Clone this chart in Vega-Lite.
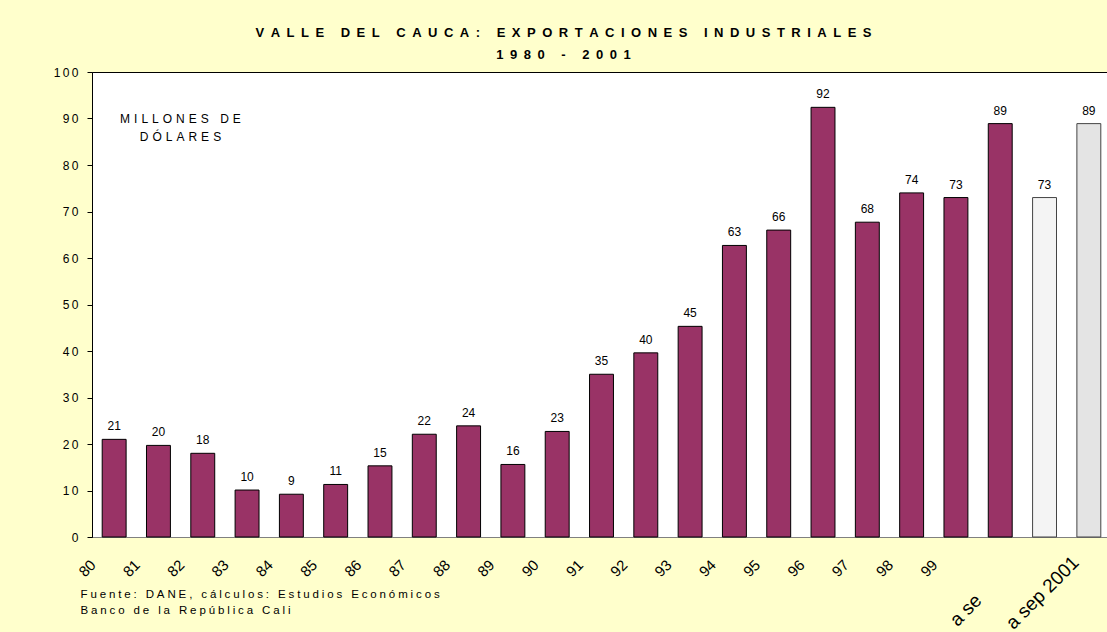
{
  "$schema": "https://vega.github.io/schema/vega-lite/v6.json",
  "autosize": {"type": "none"},
  "width": 1015,
  "height": 465,
  "padding": {"left": 92, "top": 72, "right": 0, "bottom": 95},
  "background": "#FFFFCC",
  "config": {
    "font": "Liberation Sans",
    "view": {"fill": "white", "stroke": "black", "strokeWidth": 1}
  },
  "title": {
    "text": "V\u2002A\u2002L\u2002L\u2002E\u2002 \u2002D\u2002E\u2002L\u2002 \u2002C\u2002A\u2002U\u2002C\u2002A\u2002:\u2002 \u2002E\u2002X\u2002P\u2002O\u2002R\u2002T\u2002A\u2002C\u2002I\u2002O\u2002N\u2002E\u2002S\u2002 \u2002I\u2002N\u2002D\u2002U\u2002S\u2002T\u2002R\u2002I\u2002A\u2002L\u2002E\u2002S",
    "subtitle": "1\u20029\u20028\u20020\u2002 \u2002-\u2002 \u20022\u20020\u20020\u20021",
    "fontSize": 13,
    "fontWeight": "bold",
    "subtitleFontSize": 13,
    "subtitleFontWeight": "bold",
    "subtitlePadding": 9,
    "color": "black",
    "subtitleColor": "black",
    "anchor": "middle",
    "frame": "group",
    "dx": -36,
    "offset": 4
  },
  "data": {
    "values": [
      {"cat": "80", "v": 21.0, "kind": "hist"},
      {"cat": "81", "v": 19.7, "kind": "hist"},
      {"cat": "82", "v": 18.0, "kind": "hist"},
      {"cat": "83", "v": 10.1, "kind": "hist"},
      {"cat": "84", "v": 9.2, "kind": "hist"},
      {"cat": "85", "v": 11.3, "kind": "hist"},
      {"cat": "86", "v": 15.3, "kind": "hist"},
      {"cat": "87", "v": 22.1, "kind": "hist"},
      {"cat": "88", "v": 23.9, "kind": "hist"},
      {"cat": "89", "v": 15.6, "kind": "hist"},
      {"cat": "90", "v": 22.7, "kind": "hist"},
      {"cat": "91", "v": 35.0, "kind": "hist"},
      {"cat": "92", "v": 39.6, "kind": "hist"},
      {"cat": "93", "v": 45.3, "kind": "hist"},
      {"cat": "94", "v": 62.7, "kind": "hist"},
      {"cat": "95", "v": 66.0, "kind": "hist"},
      {"cat": "96", "v": 92.4, "kind": "hist"},
      {"cat": "97", "v": 67.7, "kind": "hist"},
      {"cat": "98", "v": 74.0, "kind": "hist"},
      {"cat": "99", "v": 73.0, "kind": "hist"},
      {"cat": "2000", "v": 88.9, "kind": "hist"},
      {"cat": "a sep 2000", "v": 73.0, "kind": "sep2000"},
      {"cat": "a sep 2001", "v": 88.9, "kind": "sep2001"}
    ]
  },
  "encoding": {
    "x": {
      "field": "cat",
      "type": "nominal",
      "sort": null,
      "scale": {
        "domain": ["80","81","82","83","84","85","86","87","88","89","90","91","92","93","94","95","96","97","98","99","2000","a sep 2000","a sep 2001"],
        "range": [0, 1019],
        "paddingInner": 0.46,
        "paddingOuter": 0.23
      },
      "axis": {
        "title": [
          "F\u2005u\u2005e\u2005n\u2005t\u2005e\u2005:\u2005 \u2005D\u2005A\u2005N\u2005E\u2005,\u2005 \u2005c\u2005á\u2005l\u2005c\u2005u\u2005l\u2005o\u2005s\u2005:\u2005 \u2005E\u2005s\u2005t\u2005u\u2005d\u2005i\u2005o\u2005s\u2005 \u2005E\u2005c\u2005o\u2005n\u2005ó\u2005m\u2005i\u2005c\u2005o\u2005s",
          "B\u2005a\u2005n\u2005c\u2005o\u2005 \u2005d\u2005e\u2005 \u2005l\u2005a\u2005 \u2005R\u2005e\u2005p\u2005ú\u2005b\u2005l\u2005i\u2005c\u2005a\u2005 \u2005C\u2005a\u2005l\u2005i"
        ],
        "titleFontSize": 11.5,
        "titleFontWeight": "normal",
        "titleColor": "black",
        "titleAnchor": "start",
        "titleAlign": "left",
        "titleBaseline": "top",
        "titleX": -12,
        "titleY": 51,
        "titleLineHeight": 16,
        "labelAngle": -45,
        "labelAlign": "right",
        "labelBaseline": "middle",
        "labelFontSize": {"condition": {"test": "length(datum.value) > 4", "value": 19}, "value": 15},
        "labelOffset": {"condition": [{"test": "datum.value == 'a sep 2000'", "value": -66}, {"test": "datum.value == 'a sep 2001'", "value": -13}], "value": -21},
        "labelPadding": {"condition": [{"test": "datum.value == 'a sep 2000'", "value": 60}, {"test": "datum.value == 'a sep 2001'", "value": 22}], "value": 25},
        "labelColor": "black",
        "labelOverlap": false,
        "labelLimit": 300,
        "labelExpr": "datum.value == '2000' ? '' : (datum.value == 'a sep 2000' ? 'a se' : datum.label)",
        "ticks": false,
        "tickSize": 0,
        "domainColor": "#808080",
        "grid": false
      }
    },
    "y": {
      "field": "v",
      "type": "quantitative",
      "scale": {"domain": [0, 100], "nice": false},
      "axis": {
        "title": null,
        "values": [0, 10, 20, 30, 40, 50, 60, 70, 80, 90, 100],
        "grid": false,
        "domainColor": "black",
        "tickColor": "black",
        "tickSize": 5,
        "labelFontSize": 12,
        "labelColor": "black",
        "labelPadding": 9,
        "labelExpr": "join(split(datum.label, ''), '\u2009')"
      }
    }
  },
  "layer": [
    {
      "mark": {"type": "bar", "strokeWidth": 1},
      "encoding": {
        "fill": {
          "field": "kind",
          "type": "nominal",
          "scale": {"domain": ["hist", "sep2000", "sep2001"], "range": ["#993366", "#F4F4F4", "#E4E4E4"]},
          "legend": null
        },
        "stroke": {
          "field": "kind",
          "type": "nominal",
          "scale": {"domain": ["hist", "sep2000", "sep2001"], "range": ["#000000", "#444444", "#444444"]},
          "legend": null
        }
      }
    },
    {
      "mark": {"type": "text", "baseline": "alphabetic", "dy": -9, "fontSize": 12, "color": "black"},
      "encoding": {
        "text": {"field": "v", "type": "quantitative", "format": ".0f"}
      }
    },
    {
      "data": {"values": [{"cat": "81", "v": 90, "note": "M\u2004I\u2004L\u2004L\u2004O\u2004N\u2004E\u2004S\u2004 \u2004D\u2004E\nD\u2004Ó\u2004L\u2004A\u2004R\u2004E\u2004S"}]},
      "mark": {
        "type": "text",
        "align": "center",
        "baseline": "middle",
        "dx": 22,
        "fontSize": 12,
        "lineHeight": 18,
        "lineBreak": "\n",
        "color": "black"
      },
      "encoding": {
        "text": {"field": "note", "type": "nominal"}
      }
    }
  ]
}
